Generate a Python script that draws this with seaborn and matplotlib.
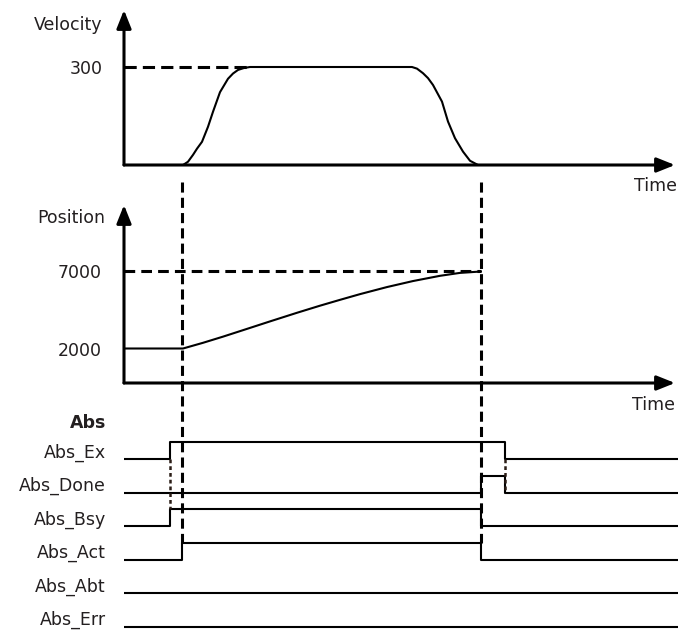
import numpy as np
import pandas as pd
import matplotlib
matplotlib.use("Agg")
import matplotlib.pyplot as plt
import seaborn as sns

# ---------------- data ----------------
# velocity profile (time units, velocity)
vel_t = [5.9, 6.4, 6.9, 7.3, 7.8, 8.4, 8.9, 9.6, 10.4, 10.9, 11.4, 12.0, 12.6,
         28.8, 29.3, 29.9, 30.4, 30.9, 31.8, 32.4, 33.1, 33.9, 34.6, 35.4]
vel_v = [0, 10, 31, 50, 71, 117, 163, 223, 264, 280, 291, 297, 300,
         300, 295, 281, 266, 245, 194, 133, 82, 41, 13, 0]
v_target = 300
t_reach = 12.6

# position profile
pos_t = [0, 5.9, 7.9, 9.9, 11.9, 14.6, 17.3, 19.6, 21.6, 23.6, 26.3, 28.9, 31.6, 33.6, 35.7]
pos_p = [2000, 2000, 2370, 2770, 3190, 3760, 4320, 4780, 5160, 5530, 5990, 6380, 6720, 6910, 7000]
p_start = 2000
p_target = 7000

# timing events
t_exec = 4.6     # Execute / Busy rise
t_start = 5.83   # Active rise, motion starts
t_done = 35.7    # motion done
t_reset = 38.1   # Execute falls
t_axis_end = 55.4

signal_names = ["Abs_Ex", "Abs_Done", "Abs_Bsy", "Abs_Act", "Abs_Abt", "Abs_Err"]
signal_edges = {
    "Abs_Ex":   ([0, t_exec, t_reset, t_axis_end], [0, 1, 0, 0]),
    "Abs_Done": ([0, t_done, t_reset, t_axis_end], [0, 1, 0, 0]),
    "Abs_Bsy":  ([0, t_exec, t_done, t_axis_end], [0, 1, 0, 0]),
    "Abs_Act":  ([0, t_start, t_done, t_axis_end], [0, 1, 0, 0]),
    "Abs_Abt":  ([0, t_axis_end], [0, 0]),
    "Abs_Err":  ([0, t_axis_end], [0, 0]),
}

# ---------------- style ----------------
sns.set_theme(style="white")
plt.rcParams["font.family"] = ["DejaVu Sans"]
TXT = "#231f20"
FS = 12.5

W, H = 680, 630
fig = plt.figure(figsize=(W / 100, H / 100), dpi=100)
fig.patch.set_facecolor("white")


def frame(x0, y0, x1, y1):
    return [x0 / W, 1 - y1 / H, (x1 - x0) / W, (y1 - y0) / H]


ax_v = fig.add_axes(frame(124, 10, 678, 165))
ax_p = fig.add_axes(frame(124, 205, 678, 383))
ax_s = fig.add_axes(frame(124, 430, 678, 630))

for ax in (ax_v, ax_p, ax_s):
    ax.set_xlim(0, t_axis_end)
    ax.patch.set_alpha(0)
    for s in ax.spines.values():
        s.set_visible(False)
    ax.set_xticks([])
    ax.tick_params(axis="y", length=0, labelsize=FS, labelcolor=TXT)

ax_v.set_ylim(0, 474.5)
ax_p.set_ylim(-240, 11318)
ax_s.set_ylim(-5.104, 0.866)

arrow_kw = dict(arrowstyle="-|>,head_length=0.55,head_width=0.22", lw=2.2,
                color="black", shrinkA=0, shrinkB=0, mutation_scale=20)


def axis_arrows(ax, ybase, ytop):
    ax.annotate("", xy=(55.1, ybase), xytext=(0, ybase), arrowprops=arrow_kw,
                annotation_clip=False)
    ax.annotate("", xy=(0, ytop), xytext=(0, ybase), arrowprops=arrow_kw,
                annotation_clip=False)


# ---- velocity panel ----
axis_arrows(ax_v, 0, 474.5)
sns.lineplot(x=vel_t, y=vel_v, ax=ax_v, color="black", lw=1.5,
             estimator=None, sort=False, legend=False)
ax_v.plot([0, t_reach], [v_target, v_target], color="black", lw=2.2,
          dashes=(4, 2))
ax_v.set_yticks([v_target])
ax_v.set_yticklabels([str(v_target)])
ax_v.tick_params(axis="y", pad=15)
ax_v.text(-2.2, 428.6, "Velocity", ha="right", va="center", fontsize=FS,
          color=TXT, clip_on=False)
ax_v.text(55.3, -64, "Time", ha="right", va="center", fontsize=FS,
          color=TXT, clip_on=False)

# ---- position panel ----
axis_arrows(ax_p, -240, 11318)
sns.lineplot(x=pos_t, y=pos_p, ax=ax_p, color="black", lw=1.5,
             estimator=None, sort=False, legend=False)
ax_p.plot([0, t_done], [p_target, p_target], color="black", lw=2.2,
          dashes=(3.5, 2))
ax_p.set_yticks([p_start, p_target])
ax_p.set_yticklabels([str(p_start), str(p_target)])
ax_p.tick_params(axis="y", pad=16)
ax_p.text(-1.9, 10474, "Position", ha="right", va="center", fontsize=FS,
          color=TXT, clip_on=False)
ax_p.text(55.1, -1669, "Time", ha="right", va="center", fontsize=FS,
          color=TXT, clip_on=False)

# ---- signal panel ----
for i, name in enumerate(signal_names):
    ts, st = signal_edges[name]
    ys = [-i + 0.5 * s for s in st]
    sns.lineplot(x=ts, y=ys, ax=ax_s, color="black", lw=1.5,
                 drawstyle="steps-post", estimator=None, sort=False,
                 legend=False)
ax_s.set_yticks([-i + 0.25 for i in range(len(signal_names))])
ax_s.set_yticklabels(signal_names)
ax_s.tick_params(axis="y", pad=13)
ax_s.text(-1.8, 1.07, "Abs", ha="right", va="center", fontsize=FS,
          fontweight="bold", color=TXT, clip_on=False)

# dotted handshake connectors
ax_s.plot([t_exec, t_exec], [0, -1.5], color="#2b1d16", lw=1.8,
          dashes=(1.5, 1.2), clip_on=False)
ax_s.plot([t_reset, t_reset], [0, -1], color="#2b1d16", lw=1.8,
          dashes=(1.5, 1.2), clip_on=False)

# long dashed vertical markers across all panels
for t in (t_start, t_done):
    ax_s.plot([t, t], [8.27, -2.5], color="black", lw=2.2,
              dashes=(3.3, 1.7), clip_on=False)

fig.savefig("out.png", dpi=100, facecolor="white")
